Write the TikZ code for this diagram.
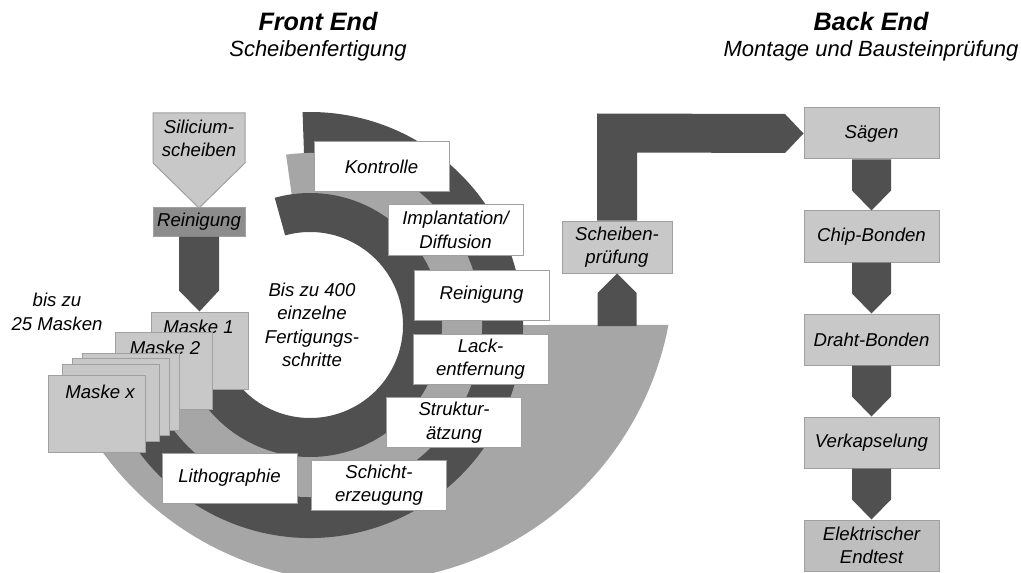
\documentclass[tikz,border=0pt]{standalone}
\usepackage{fontspec}
\setmainfont{Liberation Sans}
\usetikzlibrary{calc}
\definecolor{dk}{RGB}{80,80,80}
\definecolor{lt}{RGB}{166,166,166}
\definecolor{bx}{RGB}{200,200,200}
\definecolor{bxd}{RGB}{190,190,190}
\definecolor{bd}{RGB}{160,160,160}
\definecolor{md}{RGB}{140,140,140}
\begin{document}
\begin{tikzpicture}[x=0.5pt,y=-0.5pt,
  txt/.style={font=\itshape\fontsize{9.3}{11.75}\selectfont, align=center, inner sep=0pt},
  wbox/.style={txt, draw=bd, fill=white, line width=0.5pt, minimum width=67.5pt, minimum height=25pt},
  gbox/.style={txt, draw=bd, fill=bx, line width=0.5pt, minimum width=67.5pt, minimum height=25.5pt},
  mbox/.style={draw=bd, fill=bx, line width=0.5pt, minimum width=48.5pt, minimum height=38.5pt, inner sep=0pt},
  ttl/.style={font=\bfseries\itshape\fontsize{12.6}{14}\selectfont, inner sep=0pt},
  sub/.style={font=\itshape\fontsize{11}{13}\selectfont, inner sep=0pt}
]
\fill[white] (0,0) rectangle (1021,572);
\useasboundingbox (0,0) rectangle (1021,572);
\clip (0,0) rectangle (1021,572);

% titles
\node[ttl] (fe) at (318,22) {Front End};
\node[sub] (fes) at (318,51) {Scheibenfertigung};
\node[ttl] (be) at (871,22) {Back End};
\node[sub] (bes) at (871,51) {Montage und Bausteinprüfung};

% spiral bands
\coordinate (C) at (310,325);
\coordinate (O) at (358,266);
\fill[lt] ($(O)+(158.5:316)$) arc[start angle=158.5, end angle=10.76, radius=316]
  -- ($(C)+(0:208)$) arc[start angle=0, end angle=165, radius=208] -- cycle;
\fill[dk] ($(C)+(165:213)$) arc[start angle=165, end angle=-92, radius=213]
  -- ($(C)+(-92:171.5)$) arc[start angle=-92, end angle=165, radius=171.5] -- cycle;
\fill[lt] ($(C)+(170:172)$) arc[start angle=170, end angle=-98, radius=172]
  -- ($(C)+(-98:131.5)$) arc[start angle=-98, end angle=170, radius=131.5] -- cycle;
\fill[dk] ($(C)+(180:132)$) arc[start angle=180, end angle=-105.5, radius=132]
  -- ($(C)+(-105.5:93)$) arc[start angle=-105.5, end angle=180, radius=93] -- cycle;

% centre text
\node[txt] (ctr) at (312,325) {Bis zu 400\\einzelne\\Fertigungs-\\schritte};

% process boxes
\node[wbox] (ko) at (381.5,167) {Kontrolle};
\node[wbox] (im) at (455.5,230) {Implantation/\\Diffusion};
\node[wbox] (re) at (481.5,295) {Reinigung};
\node[wbox] (la) at (480.5,359) {Lack-\\entfernung};
\node[wbox] (st) at (454,422.5) {Struktur-\\ätzung};
\node[wbox] (sc) at (379,485) {Schicht-\\erzeugung};
\node[wbox] (li) at (229.5,478) {Lithographie};

% wafer input
\fill[bx, draw=bd, line width=0.5pt] (153,113) -- (245,113) -- (245,163) -- (199,208) -- (153,163) -- cycle;
\node[txt] (si) at (199,138.5) {Silicium-\\scheiben};
\node[txt, draw=bd, fill=md, line width=0.5pt, minimum width=46pt, minimum height=14pt] (rl) at (199,222) {Reinigung};

% masks
\node[mbox] (m1) at (199.5,350.5) {};
\node[txt] (m1t) at ($(m1.north)+(-1,15)$) {Maske 1};
\fill[dk] ($(rl.south)+(-20,0)$) -- ($(rl.south)+(-20,54)$) -- (m1.north) -- ($(rl.south)+(20,54)$) -- ($(rl.south)+(20,0)$) -- cycle;
\node[mbox] (m2) at (164,370.5) {};
\node[txt] (m2t) at ($(m2.north)+(1,16)$) {Maske 2};
\node[mbox] (m3) at (130.5,391.5) {};
\node[mbox] (m4) at (120.5,396.5) {};
\node[mbox] (m5) at (110.5,402.5) {};
\node[mbox] (mx) at (97,413.5) {};
\node[txt] (mxt) at ($(mx.north)+(3,17)$) {Maske x};
\node[txt] (bis) at (57,312) {bis zu\\25 Masken};

% wafer test and back end
\node[gbox, minimum width=55pt, minimum height=26pt] (sp) at (617,247) {Scheiben-\\prüfung};
\node[gbox] (sa) at (871.5,133.5) {Sägen};
\node[gbox] (cb) at (871.5,236.5) {Chip-Bonden};
\node[gbox] (db) at (871.5,339.5) {Draht-Bonden};
\node[gbox] (vk) at (871.5,442.5) {Verkapselung};
\node[gbox, fill=bxd] (et) at (871.5,545.5) {Elektrischer\\Endtest};

\fill[dk] (597.5,326) -- (597.5,293) -- (sp.south) -- (636.5,293) -- (636.5,326) -- cycle;
\fill[dk] ($(sp.north)+(-20,0)$) -- ($(sp.north)+(-20,-107)$) -- (785,114) -- (sa.west) -- (785,153)
  -- ($(sp.north)+(20,-68)$) -- ($(sp.north)+(20,0)$) -- cycle;

\foreach \a/\b in {sa/cb, cb/db, db/vk, vk/et}{
  \fill[dk] ($(\a.south)+(-19.5,0)$) -- ($(\a.south)+(-19.5,31)$) -- (\b.north)
    -- ($(\a.south)+(19.5,31)$) -- ($(\a.south)+(19.5,0)$) -- cycle;
}
\end{tikzpicture}
\end{document}
